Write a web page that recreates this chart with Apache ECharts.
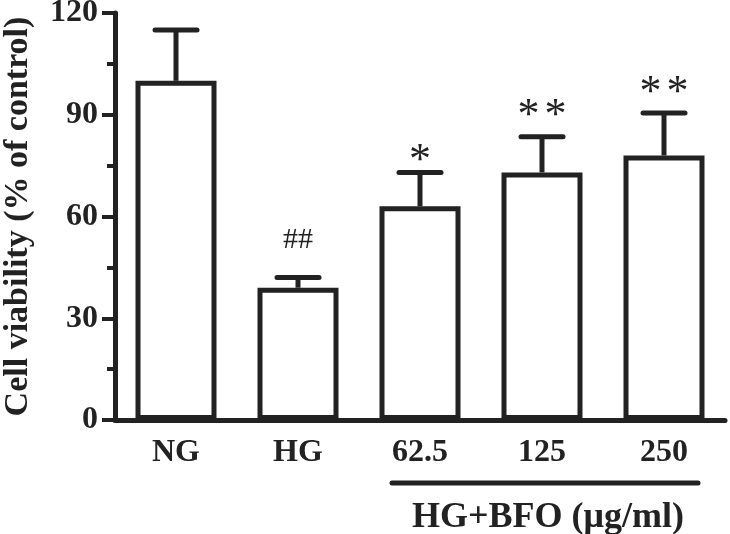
<!DOCTYPE html>
<html>
<head>
<meta charset="utf-8">
<script src="https://cdn.jsdelivr.net/npm/echarts@6/dist/echarts.min.js"></script>
<style>html,body{margin:0;padding:0;background:#fff}#c{width:730px;height:534px}</style>
</head>
<body>
<div id="c"></div>
<script>
const categories = ['NG', 'HG', '62.5', '125', '250'];
const meanValues = [100, 39, 63, 73, 78];
const upperValues = [115, 42, 73, 83.5, 90.5];
const marks = ['', '##', '*', '**', '**'];
const yTicks = { min: 0, max: 120, interval: 30 };
const groupLabel = 'HG+BFO (μg/ml)';
const yTitle = 'Cell viability (% of control)';

const INK = '#222';
const FONT = 'Liberation Serif, Times New Roman, serif';
const markStyle = {
  '##': { fontSize: 30, gap: 37, split: false },
  '*': { fontSize: 44, gap: 11, split: true, step: 27 },
  '**': { fontSize: 44, gap: 20, split: true, step: 27 }
};

const chart = echarts.init(document.getElementById('c'), null, { renderer: 'canvas' });

const errData = categories.map((c, i) => [i, meanValues[i], upperValues[i]]);

chart.setOption({
  animation: false,
  backgroundColor: '#fff',
  grid: { left: 115, right: 5, top: 13, bottom: 114, containLabel: false, outerBoundsMode: 'none' },
  xAxis: {
    type: 'category',
    data: categories,
    axisLine: { lineStyle: { color: INK, width: 5 } },
    axisTick: { alignWithLabel: true, length: 10, lineStyle: { color: INK, width: 4 } },
    axisLabel: { color: INK, fontFamily: FONT, fontWeight: 'bold', fontSize: 32, margin: 17 },
    splitLine: { show: false }
  },
  yAxis: {
    type: 'value',
    min: yTicks.min, max: yTicks.max, interval: yTicks.interval,
    name: yTitle,
    nameLocation: 'middle',
    nameRotate: 90,
    nameGap: 80,
    nameTextStyle: { color: INK, fontFamily: FONT, fontWeight: 'bold', fontSize: 34 },
    axisLine: { show: true, lineStyle: { color: INK, width: 5 } },
    axisTick: { show: true, length: 13, lineStyle: { color: INK, width: 4 } },
    minorTick: { show: true, splitNumber: 2, length: 8, lineStyle: { color: INK, width: 4 } },
    axisLabel: { color: INK, fontFamily: FONT, fontWeight: 'bold', fontSize: 32, margin: 17 },
    splitLine: { show: false }
  },
  series: [
    {
      type: 'bar',
      data: meanValues,
      barWidth: 81,
      itemStyle: { color: '#fff', borderColor: INK, borderWidth: 5 },
      z: 2
    },
    {
      type: 'custom',
      data: errData,
      z: 3,
      renderItem: function (params, api) {
        const i = api.value(0);
        const mean = api.coord([i, api.value(1)]);
        const up = api.coord([i, api.value(2)]);
        const mark = marks[params.dataIndex];
        const half = 21;
        const children = [
          { type: 'line', shape: { x1: up[0], y1: mean[1], x2: up[0], y2: up[1] },
            style: { stroke: INK, lineWidth: 5 } },
          { type: 'line', shape: { x1: up[0] - half, y1: up[1], x2: up[0] + half, y2: up[1] },
            style: { stroke: INK, lineWidth: 5, lineCap: 'round' } }
        ];
        if (mark) {
          const st = markStyle[mark];
          const parts = st.split ? mark.split('') : [mark];
          const n = parts.length;
          parts.forEach(function (p, k) {
            const dx = st.split ? (k - (n - 1) / 2) * st.step : 0;
            children.push({
              type: 'text',
              style: {
                text: p, x: up[0] + dx, y: up[1] - st.gap,
                align: 'center', verticalAlign: 'middle',
                fontFamily: FONT, fontSize: st.fontSize, fill: INK
              }
            });
          });
        }
        return { type: 'group', children: children };
      }
    }
  ]
});

const xa = chart.convertToPixel({ xAxisIndex: 0 }, categories[2]);
const xb = chart.convertToPixel({ xAxisIndex: 0 }, categories[4]);
const x1 = xa - 28, x2 = xb + 34;
chart.setOption({
  graphic: [
    { type: 'line', shape: { x1: x1, y1: 483, x2: x2, y2: 483 },
      style: { stroke: INK, lineWidth: 5, lineCap: 'round' } },
    { type: 'text', x: (x1 + x2) / 2 + 3, y: 518,
      style: { text: groupLabel, align: 'center', verticalAlign: 'middle',
               fontFamily: FONT, fontWeight: 'bold', fontSize: 36, fill: INK } }
  ]
});
</script>
</body>
</html>
